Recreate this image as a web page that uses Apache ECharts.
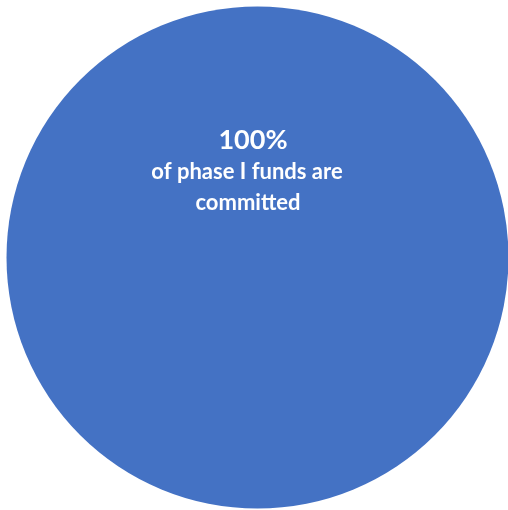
<!DOCTYPE html>
<html>
<head>
<meta charset="utf-8">
<script src="https://cdn.jsdelivr.net/npm/echarts@6/dist/echarts.min.js"></script>
<style>
html,body{margin:0;padding:0;background:#fff;}
#chart{width:508px;height:510px;}
</style>
</head>
<body>
<div id="chart"></div>
<script>
var categories = ['Committed'];
var values = [100];
var headline = '100%';
var captionLines = ['of phase I funds are', 'committed'];

function txt(t, x, y, size) {
  return {
    type: 'text', x: x, y: y, z: 100, zlevel: 1,
    style: {
      text: t, fill: '#ffffff',
      font: 'bold ' + size + 'px Lato, "Open Sans", sans-serif',
      align: 'center', verticalAlign: 'middle',
      textAlign: 'center', textVerticalAlign: 'middle'
    }
  };
}

var chart = echarts.init(document.getElementById('chart'), null, {renderer: 'canvas'});
chart.setOption({
  animation: false,
  backgroundColor: '#ffffff',
  series: [{
    type: 'pie',
    center: [257.5, 257.5],
    radius: [0, 251],
    silent: true,
    startAngle: 90,
    label: {show: false},
    labelLine: {show: false},
    itemStyle: {color: '#4472C4', borderWidth: 0},
    data: categories.map(function (c, i) { return {name: c, value: values[i]}; })
  }],
  graphic: [
    txt(headline, 253, 140, 27),
    txt(captionLines[0], 247, 172, 22),
    txt(captionLines[1], 248, 203, 22)
  ]
});
</script>
</body>
</html>
